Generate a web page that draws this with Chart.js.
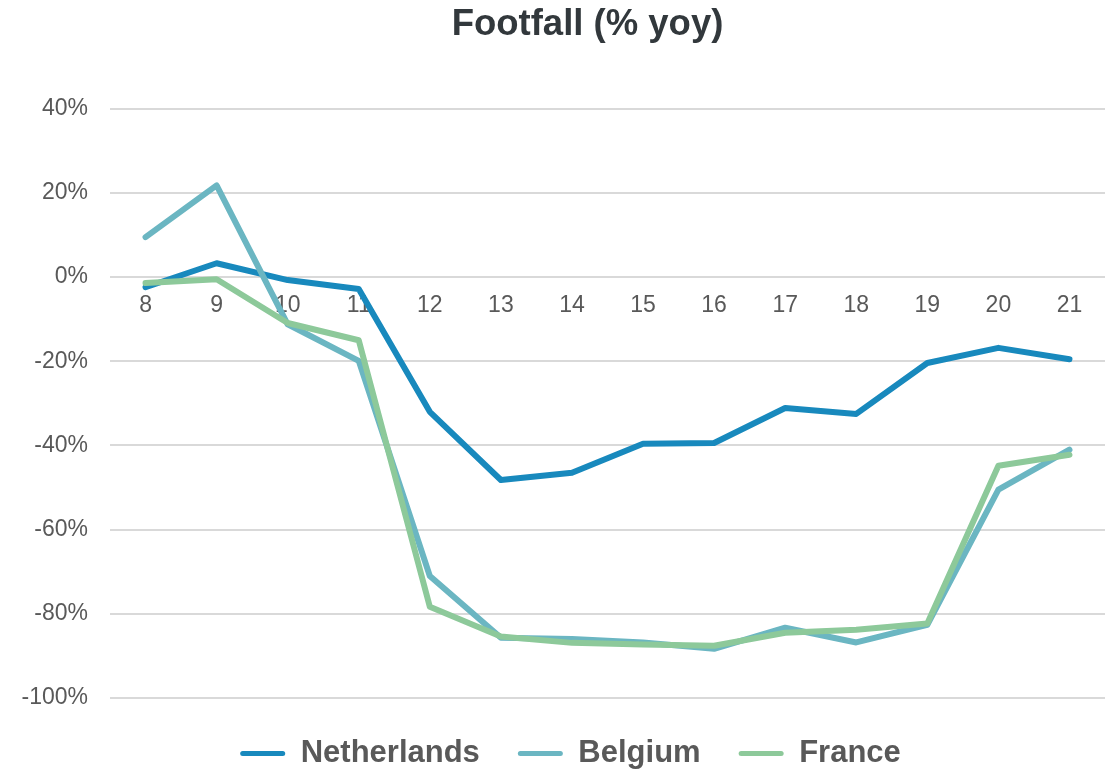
<!DOCTYPE html>
<html>
<head>
<meta charset="utf-8">
<script src="https://cdn.jsdelivr.net/npm/chart.js@4/dist/chart.umd.min.js"></script>
<style>
  html, body { margin: 0; padding: 0; background: #fff; }
  #wrap { width: 1109px; height: 769px; position: relative; }
</style>
</head>
<body>
<div id="wrap"><canvas id="myChart"></canvas></div>
<script>
const weeks = ["8", "9", "10", "11", "12", "13", "14", "15", "16", "17", "18", "19", "20", "21"];
const netherlands = [-2.4, 3.3, -0.7, -2.8, -32, -48.2, -46.5, -39.6, -39.4, -31.1, -32.5, -20.4, -16.8, -19.5];
const belgium = [9.5, 21.8, -11.2, -19.9, -71, -85.7, -86, -86.8, -88.3, -83.3, -86.8, -82.6, -50.5, -41];
const france = [-1.4, -0.5, -10.9, -15, -78.3, -85.4, -86.9, -87.3, -87.6, -84.5, -83.8, -82.3, -44.8, -42.2];

const textGrey = "#595959";
const fontFamily = "Liberation Sans, Arial, sans-serif";

const makeLine = (label, data, color, order) => ({
    label: label,
    data: data,
    borderColor: color,
    backgroundColor: color,
    borderWidth: 6,
    borderCapStyle: "round",
    borderJoinStyle: "round",
    pointRadius: 0,
    tension: 0,
    order: order,
});

// title and legend sit a bit right of the canvas centre in the original
const nudgeBoxes = {
    id: "nudgeBoxes",
    afterLayout: (chart) => {
        chart.titleBlock.left += 35;
        chart.titleBlock.right += 35;
        chart.legend.left += 18;
        chart.legend.right += 18;
        chart.legend.top += 2;
        chart.legend.bottom += 2;
    },
};

const ctx = document.getElementById("myChart");
new Chart(ctx, {
    type: "line",
    data: {
        labels: weeks,
        datasets: [
            makeLine("Netherlands", netherlands, "#1889bd", 3),
            makeLine("Belgium", belgium, "#6bb6c2", 2),
            makeLine("France", france, "#8dc99a", 1),
        ],
    },
    plugins: [nudgeBoxes],
    options: {
        responsive: true,
        maintainAspectRatio: false,
        animation: false,
        layout: { padding: { left: 0, right: 4, top: 3, bottom: -8 } },
        plugins: {
            title: {
                display: true,
                text: "Footfall (% yoy)",
                color: "#32383c",
                font: { family: fontFamily, size: 36.5, weight: "bold" },
                padding: { top: 0, bottom: 62 },
            },
            legend: {
                position: "bottom",
                sort: (a, b) => a.datasetIndex - b.datasetIndex,
                labels: {
                    color: textGrey,
                    font: { family: fontFamily, size: 31, weight: "bold" },
                    boxWidth: 45,
                    boxHeight: 5,
                    padding: 38,
                    useBorderRadius: true,
                    borderRadius: 2.5,
                    generateLabels: (chart) =>
                        chart.data.datasets.map((ds, i) => ({
                            text: ds.label,
                            fillStyle: ds.borderColor,
                            strokeStyle: ds.borderColor,
                            lineWidth: 0,
                            fontColor: textGrey,
                            datasetIndex: i,
                            hidden: !chart.isDatasetVisible(i),
                            borderRadius: 2.5,
                        })),
                },
            },
            tooltip: { enabled: false },
        },
        scales: {
            x: {
                position: { y: 0 },
                offset: true,
                grid: { display: false, drawTicks: false },
                border: { display: false },
                ticks: {
                    color: textGrey,
                    padding: 15,
                    maxRotation: 0,
                    font: { family: fontFamily, size: 23 },
                },
            },
            y: {
                min: -100,
                max: 40,
                grid: { color: "#d9d9d9", lineWidth: 2, drawTicks: false },
                border: { display: false },
                afterFit: (scale) => { scale.width = 110; },
                ticks: {
                    stepSize: 20,
                    color: textGrey,
                    padding: 22,
                    font: { family: fontFamily, size: 23 },
                    callback: (v) => v + "%",
                },
            },
        },
    },
});
</script>
</body>
</html>
